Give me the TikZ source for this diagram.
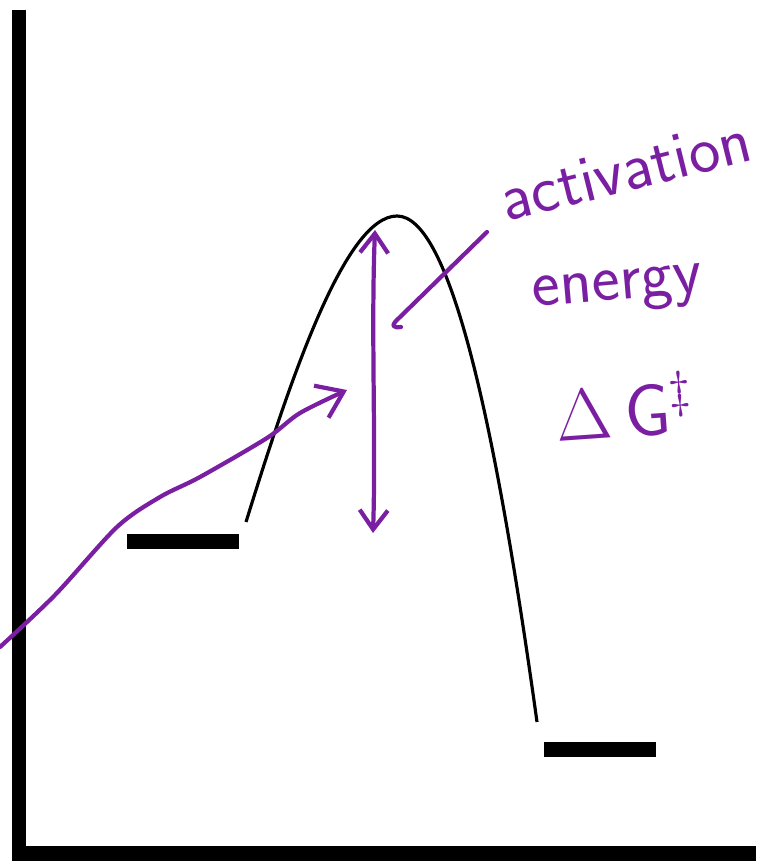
\documentclass[tikz,border=0pt]{standalone}
\usepackage{amsmath, amssymb}
\usepackage{tikz}
\usetikzlibrary{arrows.meta}
\definecolor{ink}{RGB}{123,31,162}

\begin{document}
\begin{tikzpicture}[x=0.01cm, y=-0.01cm, >={Straight Barb[length=5.5pt, width=8pt]},
    pen/.style={ink, line width=1.2pt, line cap=round, line join=round},
    level/.style={fill=black, minimum width=1.12cm, minimum height=0.15cm, inner sep=0pt},
    hand/.style={ink, font=\sffamily\fontsize{19}{22}\selectfont, inner sep=0pt}]
    \useasboundingbox (0,0) rectangle (756,861);
    \draw[line width=4.1pt] (19,10) -- (19,853.5) -- (756,853.5);
    \node[level] (reactant) at (183,541.5) {};
    \node[level] (product) at (600,749.5) {};
    \coordinate (rise) at (246,522);
    \coordinate (ts) at (397,216);
    \coordinate (fall) at (537,722);
    \draw[line width=0.9pt] (rise) .. controls (290,380) and (345,216) .. (ts)
        .. controls (450,216) and (495,420) .. (fall);
    \coordinate (top) at (375,230);
    \coordinate (bottom) at (373,533);
    \draw[pen, <->] (top) .. controls (371,330) and (376,440) .. (bottom);
    \node[hand, anchor=base west, rotate=14] (act) at (506,222) {activation};
    \node[hand, anchor=base west, rotate=5] (en) at (533,307) {energy};
    \node[hand, anchor=base west, rotate=4, font=\sffamily\fontsize{22}{26}\selectfont] (dg) at (557,442) {$\Delta\,\mathsf{G}^{\ddagger}$};
    \coordinate (hook) at (401,327);
    \draw[pen] (487,232) -- (399,318) .. controls (390,326) and (393,328) .. (hook);
    \coordinate (start) at (0,647);
    \coordinate (tip) at (347,390);
    \draw[pen, ->, >={Straight Barb[length=7pt, width=10pt]}] plot[smooth] coordinates {(start) (55,595) (117,527) (160,497) (200,477) (267,438) (300,413) (tip)};
\end{tikzpicture}
\end{document}
